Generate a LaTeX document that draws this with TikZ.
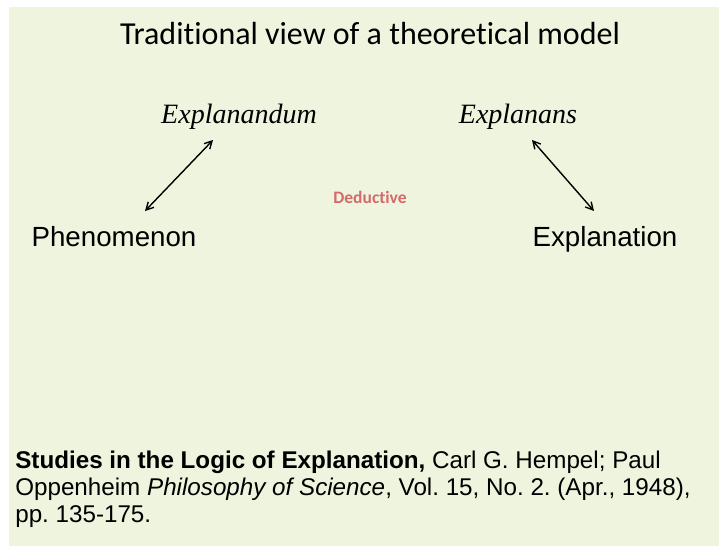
\documentclass[tikz,border=0pt]{standalone}
\usepackage{fontspec}
\setmainfont{Liberation Serif}
\setsansfont{Liberation Sans}
\newfontfamily\calibri[Ligatures=NoCommon]{Carlito}
\usetikzlibrary{arrows.meta}
\definecolor{slidebg}{HTML}{EFF4DE}
\definecolor{deductred}{HTML}{D46A6A}
\frenchspacing
\tikzset{
  every picture/.style={line width=0.6pt},
  ttl/.style={font=\calibri\fontsize{32}{38}\selectfont,inner sep=0,anchor=base},
  term/.style={font=\itshape\fontsize{28}{32}\selectfont,inner sep=0,anchor=base},
  pole/.style={font=\sffamily\fontsize{27.7}{32}\selectfont,inner sep=0,anchor=base},
  lbl/.style={font=\calibri\bfseries\fontsize{17.5}{20}\selectfont,text=deductred,inner sep=0,anchor=base},
  cite/.style={font=\sffamily\fontsize{24.2}{27}\selectfont,align=left,anchor=base west,inner sep=0},
  link/.style={{Straight Barb[length=2.6mm,width=2.8mm]}-{Straight Barb[length=2.6mm,width=2.8mm]},line width=1.4pt},
}

\begin{document}
\begin{tikzpicture}[x=1pt,y=-1pt]
% slide background
\useasboundingbox (0,0) rectangle (719,546);
\fill[slidebg] (9,7) rectangle (719,546);
% title
\node[ttl] (title) at (370,44) {Traditional view of a theoretical model};
% the two terms
\node[term] (expd) at (239,123) {Explanandum};
\node[term] (expn) at (518,123) {Explanans};
\node[pole] (phen) at (114,246) {Phenomenon};
\node[pole] (expl) at (605,246) {Explanation};
\node[lbl] (ded) at (370,203) {Deductive};
% arrows
\coordinate (phenTip) at (145,211);
\coordinate (expdTip) at (213,140);
\coordinate (expnTip) at (532,140);
\coordinate (explTip) at (594,211);
\draw[link] (phenTip) -- (expdTip);
\draw[link] (expnTip) -- (explTip);
% reference (anchored on the last line)
\node[cite] (ref) at (15,522)
 {\textbf{Studies in the Logic of Explanation,} Carl G. Hempel; Paul\\
  Oppenheim \textit{Philosophy of Science}, Vol. 15, No. 2. (Apr., 1948),\\
  pp. 135-175.};
\end{tikzpicture}
\end{document}
